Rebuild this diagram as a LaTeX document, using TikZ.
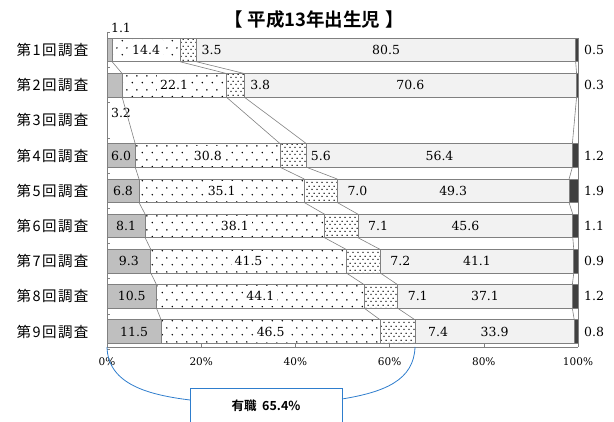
\documentclass[tikz,border=0pt]{standalone}
\usepackage{fontspec}
\setmainfont{DejaVu Serif}
\newfontfamily\jpfont{Noto Sans CJK JP}[BoldFont=* Bold]
\newfontfamily\jpcat{Noto Sans CJK JP}[LetterSpace=10]
\usetikzlibrary{patterns}
\definecolor{barline}{RGB}{128,128,128}
\definecolor{grayseg}{RGB}{191,191,191}
\definecolor{lightseg}{RGB}{242,242,242}
\definecolor{darkseg}{RGB}{64,64,64}
\definecolor{callblue}{RGB}{46,125,205}
% dot fills
\pgfdeclarepatternformonly{sparsedots}{\pgfqpoint{0pt}{0pt}}{\pgfqpoint{10pt}{14pt}}{\pgfqpoint{10pt}{14pt}}{%
  \pgfpathcircle{\pgfqpoint{2.5pt}{3.5pt}}{0.9pt}%
  \pgfpathcircle{\pgfqpoint{7.5pt}{10.5pt}}{0.9pt}%
  \pgfusepath{fill}}
\pgfdeclarepatternformonly{densedots}{\pgfqpoint{0pt}{0pt}}{\pgfqpoint{4.5pt}{7pt}}{\pgfqpoint{4.5pt}{7pt}}{%
  \pgfpathcircle{\pgfqpoint{1.1pt}{1.75pt}}{0.8pt}%
  \pgfpathcircle{\pgfqpoint{3.4pt}{5.25pt}}{0.8pt}%
  \pgfusepath{fill}}
\begin{document}
\begin{tikzpicture}[x=1pt,y=-1pt,font=\fontsize{12.5}{12.5}\selectfont,
    seg/.style={draw=barline,line width=0.8pt},
    serline/.style={barline,line width=0.6pt},
    lab/.style={inner sep=1pt},
    jp/.style={font=\jpcat\fontsize{14.5}{14.5}\selectfont}]
    \useasboundingbox (0,0) rectangle (614,422);
    \node[font=\jpfont\bfseries\fontsize{18.5}{18.5}\selectfont] (title) at (314,20) {【\hspace{0.25em}平成13年出生児\hspace{0.25em}】};
    % bars: row/centre/five shares/offset of the third label
    \foreach \row/\yc/\a/\b/\c/\d/\e/\off in {1/50/1.1/14.4/3.5/80.5/0.5/4, 2/85.2/3.2/22.1/3.8/70.6/0.3/5,
        4/155.6/6.0/30.8/5.6/56.4/1.2/3, 5/190.8/6.8/35.1/7.0/49.3/1.9/9, 6/226/8.1/38.1/7.1/45.6/1.1/9,
        7/261.2/9.3/41.5/7.2/41.1/0.9/9, 8/296.4/10.5/44.1/7.1/37.1/1.2/9, 9/331.6/11.5/46.5/7.4/33.9/0.8/12}{
        \pgfmathsetmacro\pa{107+4.71*\a}
        \pgfmathsetmacro\pb{\pa+4.71*\b}
        \pgfmathsetmacro\pc{\pb+4.71*\c}
        \pgfmathsetmacro\pd{578-4.71*\e}
        \draw[seg,fill=grayseg] (107,\yc-11.75) rectangle (\pa,\yc+11.75);
        \draw[seg,pattern=sparsedots,pattern color=black] (\pa,\yc-11.75) rectangle (\pb,\yc+11.75);
        \draw[seg,pattern=densedots,pattern color=black] (\pb,\yc-11.75) rectangle (\pc,\yc+11.75);
        \draw[seg,fill=lightseg] (\pc,\yc-11.75) rectangle (\pd,\yc+11.75);
        \draw[seg,fill=darkseg] (\pd,\yc-11.75) rectangle (578,\yc+11.75);
        \foreach \k/\px in {1/\pa,2/\pb,3/\pc,4/\pd,5/578}{
            \coordinate (t\row-\k) at (\px,\yc-11.75);
            \coordinate (b\row-\k) at (\px,\yc+11.75);
        }
        \ifdim\a pt>5pt \node[lab] (v\row-1) at ({(107+\pa)/2},\yc) {\a}; \fi
        \node[lab,fill=white,minimum height=20,inner xsep=3pt] (v\row-2) at ({(\pa+\pb)/2},\yc) {\b};
        \node[lab,anchor=west] (v\row-3) at (\pc+\off,\yc) {\c};
        \node[lab] (v\row-4) at ({(\pc+\pd)/2},\yc) {\d};
        \node[lab,anchor=west] (v\row-5) at (583,\yc) {\e};
    }
    \node[lab] (v1-1) at (121,28) {1.1};
    \node[lab] (v2-1) at (121,113) {3.2};
    % series lines
    \foreach \r/\s in {1/2,2/4,4/5,5/6,6/7,7/8,8/9}
        \foreach \k in {1,...,5}
            \draw[serline] (b\r-\k) -- (t\s-\k);
    % axes
    \coordinate (o) at (107,347);
    \coordinate (xend) at (578,347);
    \draw[serline] (107,32) -- (o) -- (xend);
    \foreach \i in {0,...,9}
        \draw[serline] (107,32.4+35.2*\i) -- ++(3,0);
    \foreach \p in {0,20,...,100}{
        \draw[serline] (107+4.71*\p,347) -- ++(0,-4);
        \node[font=\fontsize{10.5}{10.5}\selectfont] (x\p) at (107+4.71*\p,362) {\p\%};
    }
    \foreach \i in {1,...,9}
        \node[jp,anchor=east] (c\i) at (92,50+35.2*\i-35.2) {第{\i}回調査};
    % callout
    \node[draw=callblue,fill=white,line width=0.9pt,minimum width=152,minimum height=60,anchor=north west] (jobbox) at (190,388) {};
    \node[font=\jpfont\bfseries\fontsize{12.5}{12.5}\selectfont] (jobtxt) at (266,406) {有職\ \ 65.4\%};
    \coordinate (jl) at (190,400);
    \coordinate (jr) at (342,399);
    \coordinate (p654) at (415,347);
    \draw[callblue,line width=0.8pt] (o) .. controls (108,385) and (150,395) .. (jl);
    \draw[callblue,line width=0.8pt] (jr) .. controls (385,392) and (414,380) .. (p654);
\end{tikzpicture}
\end{document}
